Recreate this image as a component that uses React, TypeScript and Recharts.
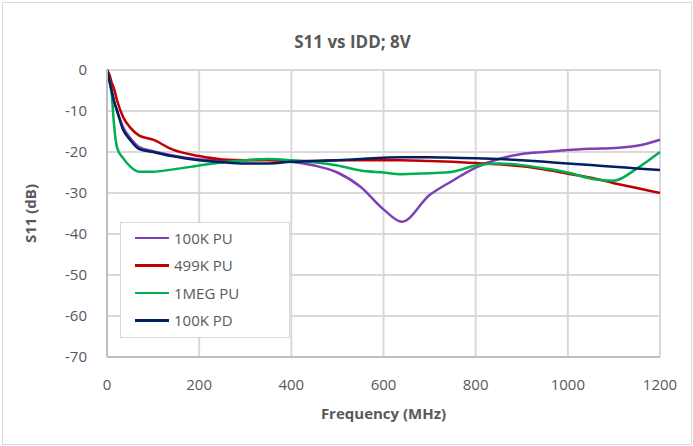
import React from "react";
import { LineChart, Line, XAxis, YAxis, CartesianGrid } from "recharts";

// frequency points (MHz)
const freqs = [
  0, 5, 10, 15, 22, 35, 50, 70, 100, 140, 200, 250, 300, 350, 400, 450, 500,
  550, 600, 640, 700, 750, 800, 850, 900, 950, 1000, 1050, 1100, 1150, 1200,
];

const pu100k = [
  0, -2, -5, -7.5, -10, -14, -16.5, -18.8, -19.8, -20.8, -21.8, -22, -22,
  -21.8, -22.4, -23.3, -25, -28.5, -34, -37, -30.5, -27, -23.8, -21.7, -20.5,
  -20, -19.5, -19.2, -19, -18.5, -17,
];

const pu499k = [
  0, -1, -3, -4.5, -7.5, -11.5, -14, -16, -17, -19.3, -21, -21.8, -22, -22,
  -22.2, -22.2, -22, -22, -22, -22, -22.2, -22.4, -22.7, -23, -23.5, -24.3,
  -25.3, -26.3, -27.6, -28.8, -30,
];

const pu1meg = [
  0, -2.5, -5.6, -13, -19, -21.5, -23.5, -24.8, -24.8, -24.3, -23.3, -22.5,
  -22, -21.7, -22, -22.5, -23.3, -24.5, -25, -25.4, -25.2, -24.8, -23.3,
  -22.8, -23.2, -24, -25, -26.5, -27, -24, -20,
];

const pd100k = [
  0, -2.5, -5, -7.5, -10, -14.6, -17, -19.3, -20, -21, -22, -22.5, -22.8,
  -22.8, -22.4, -22.2, -22, -21.7, -21.4, -21.3, -21.3, -21.4, -21.5, -21.7,
  -22, -22.4, -22.8, -23.2, -23.6, -24, -24.4,
];

const xTicks = [0, 200, 400, 600, 800, 1000, 1200];
const yTicks = [0, -10, -20, -30, -40, -50, -60, -70];

const series = [
  { key: "pu100k", name: "100K PU", color: "#7F3FB5" },
  { key: "pu499k", name: "499K PU", color: "#C00000" },
  { key: "pu1meg", name: "1MEG PU", color: "#00B050" },
  { key: "pd100k", name: "100K PD", color: "#002060" },
];

const data = freqs.map((f, i) => ({
  f,
  pu100k: pu100k[i],
  pu499k: pu499k[i],
  pu1meg: pu1meg[i],
  pd100k: pd100k[i],
}));

const font = "'Open Sans', 'Liberation Sans', sans-serif";
const textColor = "#595959";

const LegendBox = () => (
  <div
    style={{
      position: "absolute",
      left: 120,
      top: 222,
      border: "1px solid #d9d9d9",
      background: "#fff",
      padding: "1px 8px 3px 14px",
      width: 146,
      fontFamily: font,
      fontSize: 15,
      color: textColor,
    }}
  >
    {series.map((s) => (
      <div
        key={s.key}
        style={{ display: "flex", alignItems: "center", height: 27.5 }}
      >
        <span
          style={{
            display: "inline-block",
            width: 34,
            height: 2.5,
            background: s.color,
            marginRight: 5,
          }}
        />
        {s.name}
      </div>
    ))}
  </div>
);

export default function App() {
  return (
    <div
      style={{
        position: "absolute",
        left: 0,
        top: 0,
        width: 693,
        height: 446,
        background: "#fff",
      }}
    >
      <div
        style={{
          position: "absolute",
          left: 2,
          top: 2,
          width: 688,
          height: 441,
          border: "1px solid #d9d9d9",
        }}
      />
      <div
        style={{
          position: "absolute",
          left: 0,
          top: 30,
          width: 705,
          textAlign: "center",
          fontFamily: font,
          fontWeight: 700,
          fontSize: 17,
          color: textColor,
        }}
      >
        S11 vs IDD; 8V
      </div>
      <LineChart
        width={693}
        height={446}
        data={data}
        margin={{ top: 70, right: 33, bottom: 29, left: 0 }}
        style={{ position: "absolute", left: 0, top: 0 }}
      >
        <CartesianGrid stroke="#d9d9d9" strokeWidth={2} />
        <XAxis
          dataKey="f"
          type="number"
          domain={[0, 1200]}
          ticks={xTicks}
          height={60}
          tickSize={0}
          tickMargin={22}
          stroke="#bfbfbf"
          strokeWidth={2}
          tick={{ fill: textColor, fontSize: 15, fontFamily: font }}
          label={{
            value: "Frequency (MHz)",
            position: "insideBottom",
            offset: -2,
            fill: textColor,
            fontSize: 15,
            fontWeight: 700,
            fontFamily: font,
          }}
        />
        <YAxis
          type="number"
          domain={[-70, 0]}
          ticks={yTicks}
          width={107}
          tickSize={0}
          tickMargin={20}
          stroke="#bfbfbf"
          strokeWidth={2}
          tick={{ fill: textColor, fontSize: 15, fontFamily: font }}
          label={{
            value: "S11 (dB)",
            angle: -90,
            position: "insideLeft",
            offset: 31,
            fill: textColor,
            fontSize: 15,
            fontWeight: 700,
            fontFamily: font,
            style: { textAnchor: "middle" },
          }}
        />
        {series.map((s) => (
          <Line
            key={s.key}
            type="monotone"
            dataKey={s.key}
            name={s.name}
            stroke={s.color}
            strokeWidth={2.5}
            dot={false}
            isAnimationActive={false}
          />
        ))}
      </LineChart>
      <LegendBox />
    </div>
  );
}
